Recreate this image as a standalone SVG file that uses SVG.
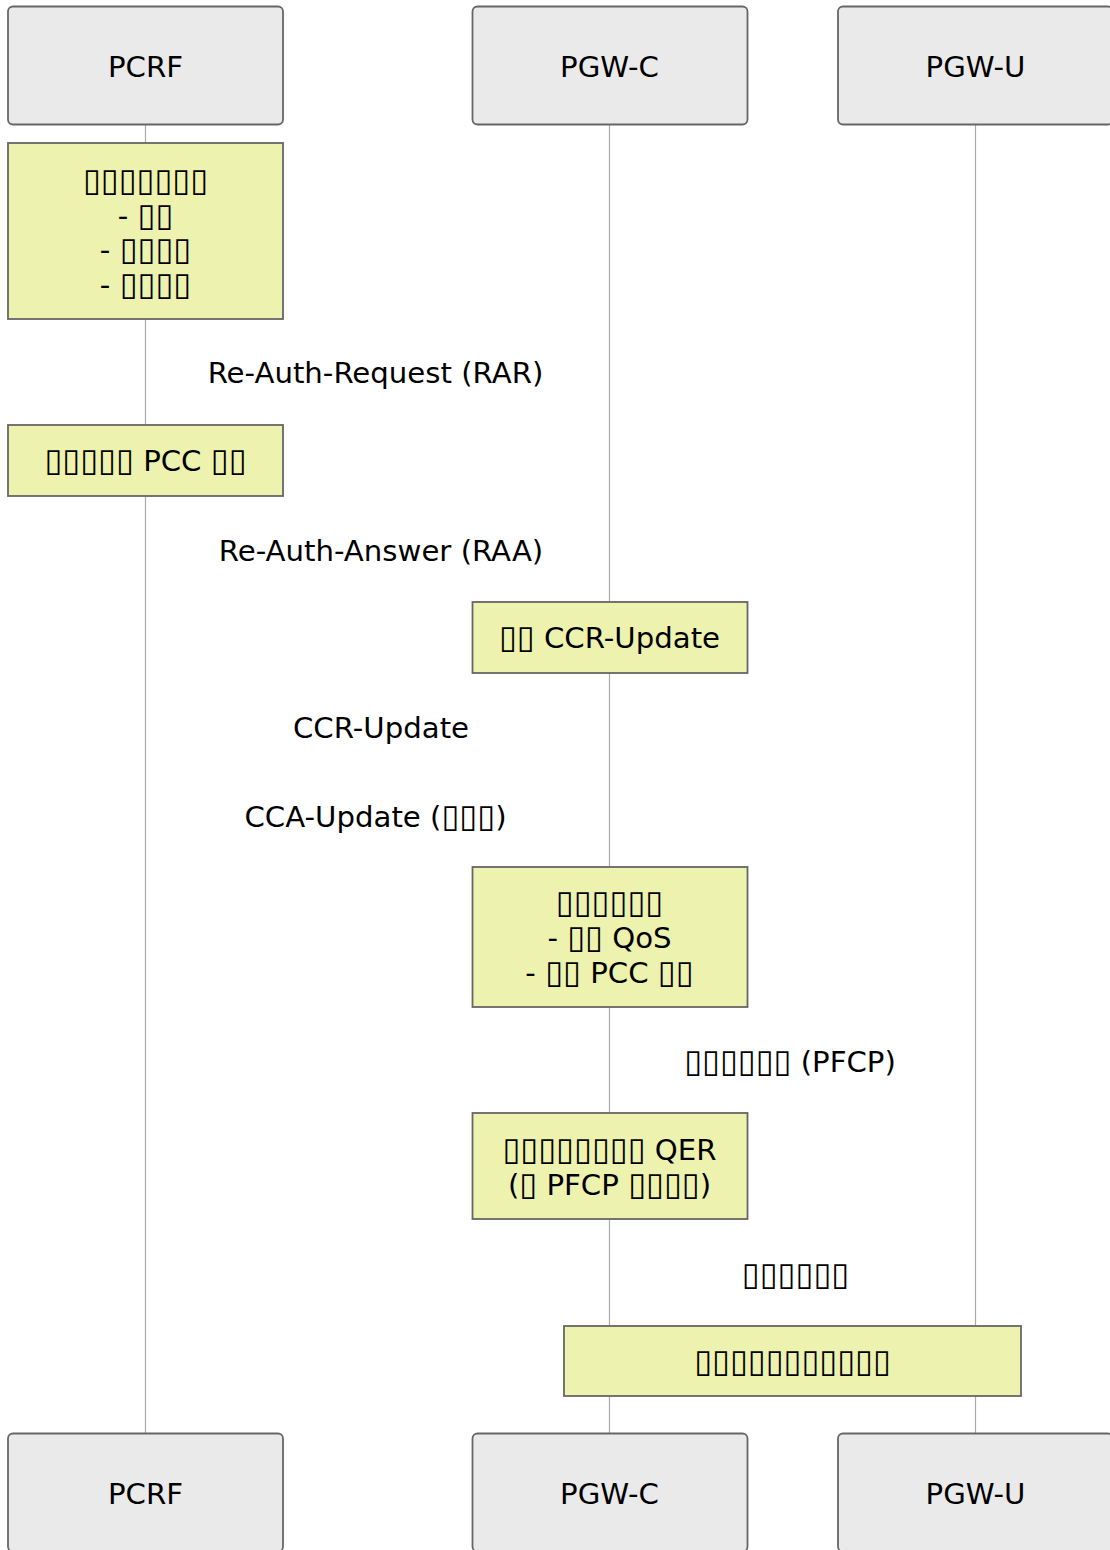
<svg xmlns="http://www.w3.org/2000/svg" width="1110" height="1550" viewBox="0 0 1110 1550">
<style>
text{font-family:"DejaVu Sans","Liberation Sans",sans-serif;font-size:29.2px;fill:#000;text-anchor:middle}
.t{font-size:32.5px}
.actor{fill:#eaeaea;stroke:#666;stroke-width:1.8}
.note{fill:#edf2ae;stroke:#666;stroke-width:1.8}
.life{stroke:#aaa;stroke-width:1.2;fill:none}
</style>
<rect width="1110" height="1550" fill="#fff"/>
<g id="connectors">
<line class="life" x1="145.5" y1="125" x2="145.5" y2="1433"/>
<line class="life" x1="609.5" y1="125" x2="609.5" y2="1433"/>
<line class="life" x1="975.5" y1="125" x2="975.5" y2="1433"/>
</g>
<g id="actor-pcrf-top"><rect class="actor" x="8" y="6.5" width="275" height="118" rx="5"/><text x="145.5" y="77">PCRF</text></g>
<g id="actor-pgwc-top"><rect class="actor" x="472.5" y="6.5" width="275" height="118" rx="5"/><text x="609.5" y="77">PGW-C</text></g>
<g id="actor-pgwu-top"><rect class="actor" x="838" y="6.5" width="275" height="118" rx="5"/><text x="975.5" y="77">PGW-U</text></g>
<g id="note1"><rect class="note" x="8" y="143" width="275" height="176"/>
<text x="145.5" y="191"><tspan class="t">▯▯▯▯▯▯▯</tspan></text><text x="145.5" y="226">- <tspan class="t">▯▯</tspan></text><text x="145.5" y="260">- <tspan class="t">▯▯▯▯</tspan></text><text x="145.5" y="295">- <tspan class="t">▯▯▯▯</tspan></text></g>
<g id="msg1"><text x="375.5" y="383">Re-Auth-Request (RAR)</text></g>
<g id="note2"><rect class="note" x="8" y="425" width="275" height="71"/><text x="145.5" y="471"><tspan class="t">▯▯▯▯▯</tspan> PCC <tspan class="t">▯▯</tspan></text></g>
<g id="msg2"><text x="381" y="561">Re-Auth-Answer (RAA)</text></g>
<g id="note3"><rect class="note" x="472.5" y="602" width="275" height="71"/><text x="609.5" y="648"><tspan class="t">▯▯</tspan> CCR-Update</text></g>
<g id="msg3"><text x="381" y="738">CCR-Update</text></g>
<g id="msg4"><text x="375.5" y="827">CCA-Update (<tspan class="t">▯▯▯</tspan>)</text></g>
<g id="note4"><rect class="note" x="472.5" y="867" width="275" height="140"/>
<text x="609.5" y="913"><tspan class="t">▯▯▯▯▯▯</tspan></text><text x="609.5" y="948">- <tspan class="t">▯▯</tspan> QoS</text><text x="609.5" y="983">- <tspan class="t">▯▯</tspan> PCC <tspan class="t">▯▯</tspan></text></g>
<g id="msg5"><text x="790" y="1072"><tspan class="t">▯▯▯▯▯▯</tspan> (PFCP)</text></g>
<g id="note5"><rect class="note" x="472.5" y="1113" width="275" height="106"/>
<text x="609.5" y="1160"><tspan class="t">▯▯▯▯▯▯▯▯</tspan> QER</text><text x="609.5" y="1195">(<tspan class="t">▯</tspan> PFCP <tspan class="t">▯▯▯▯</tspan>)</text></g>
<g id="msg6"><text x="795.5" y="1285"><tspan class="t">▯▯▯▯▯▯</tspan></text></g>
<g id="note6"><rect class="note" x="564" y="1326" width="457" height="70"/><text x="792.5" y="1372"><tspan class="t">▯▯▯▯▯▯▯▯▯▯▯</tspan></text></g>
<g id="actor-pcrf-bottom"><rect class="actor" x="8" y="1433.5" width="275" height="118" rx="5"/><text x="145.5" y="1504">PCRF</text></g>
<g id="actor-pgwc-bottom"><rect class="actor" x="472.5" y="1433.5" width="275" height="118" rx="5"/><text x="609.5" y="1504">PGW-C</text></g>
<g id="actor-pgwu-bottom"><rect class="actor" x="838" y="1433.5" width="275" height="118" rx="5"/><text x="975.5" y="1504">PGW-U</text></g>
</svg>
